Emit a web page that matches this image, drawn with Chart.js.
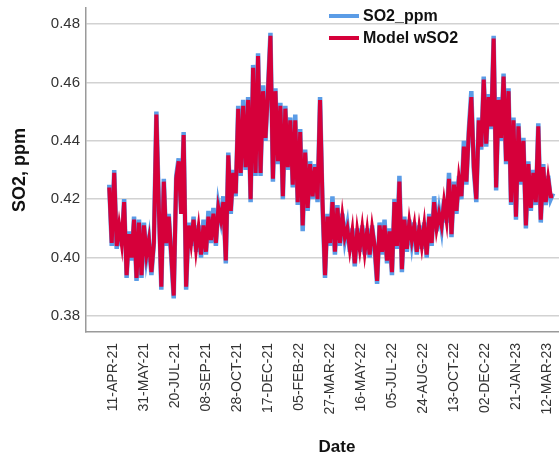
<!DOCTYPE html>
<html>
<head>
<meta charset="utf-8">
<script src="https://cdn.jsdelivr.net/npm/chart.js@4.4.1/dist/chart.umd.min.js"></script>
<style>
  html, body { margin: 0; padding: 0; background: #ffffff; }
</style>
</head>
<body>
<canvas id="chart" width="559" height="458"></canvas>
<script>
// Series names
const seriesNames = ['SO2_ppm', 'Model wSO2'];

// Date axis labels, one every 50 days starting at 11-APR-21
const tickLabels = ['11-APR-21', '31-MAY-21', '20-JUL-21', '08-SEP-21', '28-OCT-21',
  '17-DEC-21', '05-FEB-22', '27-MAR-22', '16-MAY-22', '05-JUL-22',
  '24-AUG-22', '13-OCT-22', '02-DEC-22', '21-JAN-23', '12-MAR-23'];
const tickOrigin = '2021-04-11';
const tickStepDays = 50;

// Sampling of the series: first date and spacing in days
const firstDate = '2021-04-05';
const stepDays = 4;

// Measured SO2, ppm
const so2 = [
  0.425, 0.404, 0.430, 0.403, 0.412, 0.404, 0.420, 0.393, 0.409, 0.399,
  0.414, 0.392, 0.413, 0.393, 0.412, 0.400, 0.406, 0.394, 0.405, 0.450,
  0.418, 0.389, 0.427, 0.404, 0.415, 0.400, 0.386, 0.428, 0.434, 0.415,
  0.443, 0.389, 0.412, 0.404, 0.414, 0.402, 0.411, 0.400, 0.413, 0.401,
  0.416, 0.405, 0.417, 0.404, 0.418, 0.413, 0.421, 0.398, 0.436, 0.415,
  0.430, 0.421, 0.452, 0.428, 0.454, 0.430, 0.455, 0.419, 0.466, 0.428,
  0.470, 0.428, 0.459, 0.440, 0.458, 0.477, 0.426, 0.458, 0.432, 0.453,
  0.420, 0.452, 0.430, 0.448, 0.424, 0.449, 0.418, 0.444, 0.409, 0.437,
  0.416, 0.433, 0.420, 0.432, 0.419, 0.455, 0.418, 0.393, 0.415, 0.404,
  0.421, 0.401, 0.418, 0.404, 0.415, 0.406, 0.411, 0.402, 0.410, 0.397,
  0.410, 0.402, 0.411, 0.401, 0.410, 0.400, 0.411, 0.403, 0.391, 0.412,
  0.401, 0.413, 0.398, 0.410, 0.394, 0.420, 0.403, 0.428, 0.395, 0.414,
  0.402, 0.413, 0.405, 0.412, 0.401, 0.411, 0.403, 0.412, 0.400, 0.415,
  0.404, 0.421, 0.409, 0.416, 0.410, 0.420, 0.412, 0.429, 0.407, 0.426,
  0.415, 0.428, 0.420, 0.440, 0.425, 0.444, 0.457, 0.430, 0.419, 0.448,
  0.437, 0.462, 0.438, 0.456, 0.444, 0.476, 0.423, 0.455, 0.440, 0.463,
  0.432, 0.458, 0.418, 0.448, 0.413, 0.446, 0.425, 0.441, 0.410, 0.433,
  0.416, 0.430, 0.418, 0.446, 0.412, 0.432, 0.418, 0.428, 0.420, 0.422
];

// Modelled SO2, ppm
const modelSo2 = [
  0.424, 0.405, 0.429, 0.404, 0.411, 0.405, 0.419, 0.394, 0.408, 0.400,
  0.413, 0.393, 0.412, 0.394, 0.411, 0.401, 0.406, 0.395, 0.405, 0.449,
  0.417, 0.390, 0.426, 0.405, 0.414, 0.401, 0.387, 0.427, 0.433, 0.415,
  0.442, 0.390, 0.411, 0.405, 0.413, 0.403, 0.410, 0.401, 0.411, 0.402,
  0.414, 0.406, 0.415, 0.405, 0.417, 0.413, 0.419, 0.399, 0.435, 0.416,
  0.429, 0.422, 0.451, 0.429, 0.452, 0.431, 0.454, 0.420, 0.465, 0.429,
  0.469, 0.429, 0.457, 0.441, 0.457, 0.476, 0.427, 0.457, 0.433, 0.452,
  0.421, 0.451, 0.431, 0.447, 0.425, 0.447, 0.419, 0.443, 0.411, 0.436,
  0.417, 0.432, 0.421, 0.431, 0.420, 0.454, 0.419, 0.394, 0.414, 0.405,
  0.419, 0.402, 0.417, 0.405, 0.414, 0.407, 0.410, 0.403, 0.409, 0.398,
  0.409, 0.403, 0.410, 0.402, 0.409, 0.401, 0.410, 0.404, 0.392, 0.411,
  0.402, 0.411, 0.399, 0.409, 0.395, 0.419, 0.404, 0.426, 0.396, 0.413,
  0.403, 0.412, 0.406, 0.411, 0.402, 0.410, 0.404, 0.411, 0.401, 0.414,
  0.405, 0.419, 0.410, 0.415, 0.411, 0.419, 0.413, 0.427, 0.408, 0.425,
  0.416, 0.427, 0.421, 0.438, 0.426, 0.443, 0.455, 0.431, 0.420, 0.447,
  0.438, 0.461, 0.439, 0.455, 0.445, 0.475, 0.424, 0.454, 0.441, 0.462,
  0.433, 0.457, 0.419, 0.447, 0.414, 0.445, 0.426, 0.440, 0.411, 0.432,
  0.417, 0.429, 0.419, 0.445, 0.413, 0.431, 0.419, 0.427, 0.421, 0.421
];

// y-axis tick values
const yTicks = [0.38, 0.40, 0.42, 0.44, 0.46, 0.48];

const DAY = 86400000;
const originMs = Date.parse(tickOrigin + 'T00:00:00Z');
const firstOffset = (Date.parse(firstDate + 'T00:00:00Z') - originMs) / DAY;
// x position of each sample in days since the first axis label
const dayOf = (i) => firstOffset + i * stepDays;

const toPoints = (arr) => arr.map((v, i) => ({ x: dayOf(i), y: v }));

const FONT = "'Liberation Sans', Arial, sans-serif";
const BLUE = '#5b9ce6';
const RED = '#d6003a';

// Legend drawn inside the plot, and the x-axis title
const overlay = {
  id: 'overlay',
  afterDraw(chart) {
    const ctx = chart.ctx;
    ctx.save();
    const items = [
      { label: seriesNames[0], color: BLUE, y: 16 },
      { label: seriesNames[1], color: RED, y: 38 }
    ];
    ctx.font = 'bold 16px ' + FONT;
    ctx.textBaseline = 'middle';
    ctx.textAlign = 'left';
    items.forEach(it => {
      ctx.strokeStyle = it.color;
      ctx.lineWidth = 4;
      ctx.beginPath();
      ctx.moveTo(329, it.y);
      ctx.lineTo(359, it.y);
      ctx.stroke();
      ctx.fillStyle = '#111111';
      ctx.fillText(it.label, 363, it.y + 1);
    });
    ctx.font = 'bold 17px ' + FONT;
    ctx.textAlign = 'center';
    ctx.fillText('Date', 337, 447);
    ctx.restore();
  }
};

new Chart(document.getElementById('chart'), {
  type: 'line',
  data: {
    datasets: [
      {
        label: seriesNames[1],
        data: toPoints(modelSo2),
        borderColor: RED,
        borderWidth: 4,
        pointRadius: 0,
        tension: 0,
        order: 0
      },
      {
        label: seriesNames[0],
        data: toPoints(so2),
        borderColor: BLUE,
        borderWidth: 4.5,
        pointRadius: 0,
        tension: 0,
        order: 1
      }
    ]
  },
  options: {
    responsive: false,
    animation: false,
    layout: { padding: { top: 8, left: 0, right: 0, bottom: 0 } },
    plugins: {
      legend: { display: false },
      tooltip: { enabled: false }
    },
    scales: {
      x: {
        type: 'linear',
        min: -43.5,
        max: 719.4,
        afterBuildTicks(scale) {
          scale.ticks = tickLabels.map((_, i) => ({ value: i * tickStepDays }));
        },
        afterFit(scale) {
          scale.height = 126;
          scale.paddingLeft = 0;
          scale.paddingRight = 0;
        },
        grid: { display: false, drawTicks: false },
        border: { display: true, color: '#9a9a9a', width: 1.5 },
        ticks: {
          autoSkip: false,
          maxRotation: 90,
          minRotation: 90,
          padding: 11,
          color: '#333333',
          font: { family: FONT, size: 14 },
          callback: (value) => tickLabels[Math.round(value / tickStepDays)]
        }
      },
      y: {
        min: 0.3745,
        max: 0.4855,
        afterBuildTicks(scale) {
          scale.ticks = yTicks.map(v => ({ value: v }));
        },
        afterFit(scale) {
          scale.width = 86;
          scale.paddingTop = 0;
          scale.paddingBottom = 0;
        },
        grid: { color: '#d2d2d2', lineWidth: 1.5, drawTicks: false },
        border: { display: true, color: '#9a9a9a', width: 1.5 },
        ticks: {
          padding: 6,
          color: '#333333',
          font: { family: FONT, size: 15 },
          callback: (value) => Number(value).toFixed(2)
        },
        title: {
          display: true,
          text: 'SO2, ppm',
          color: '#111111',
          font: { family: FONT, size: 18, weight: 'bold' },
          padding: { top: 9, bottom: 0 }
        }
      }
    }
  },
  plugins: [overlay]
});
</script>
</body>
</html>
